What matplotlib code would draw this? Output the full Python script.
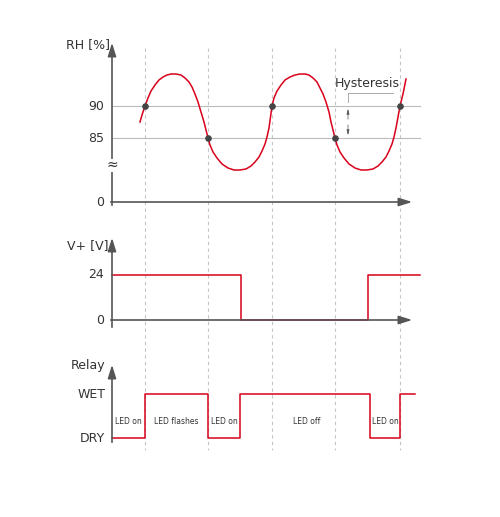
import matplotlib.pyplot as plt

# drawing units are pixel-like positions of the schematic
switch_x = [145, 208, 272, 335, 400]

rh_x = [140, 142, 145, 148, 151, 155, 159, 163, 167, 171, 176, 181, 185, 189, 192, 195, 198, 201, 204, 206, 208,
        210, 213, 217, 222, 228, 234, 240, 246, 251, 255, 259, 262, 265, 267, 269, 270.5, 272,
        274, 277, 281, 285, 290, 295, 300, 305, 309, 313, 317, 320, 323, 326, 329, 331, 333, 335,
        337, 340, 344, 349, 355, 361, 367, 373, 378, 382, 386, 389, 392, 394, 396, 398, 400, 403, 406]
rh_y = [122, 115, 106, 98, 91, 85, 80, 77, 75, 74, 74, 75, 78, 82, 87, 94, 102, 112, 122, 130, 138,
        145, 152, 158, 164, 168, 170, 170, 169, 166, 162, 157, 151, 144, 137, 128, 117, 106,
        98, 91, 85, 80, 77, 75, 74, 74, 75, 78, 82, 88, 94, 102, 112, 122, 130, 138,
        145, 152, 158, 164, 168, 170, 170, 169, 166, 162, 157, 151, 144, 137, 128, 117, 106, 94, 79]
dot_x = [145, 208, 272, 335, 400]
dot_y = [106, 138, 106, 138, 106]

v_x = [112, 241, 241, 368, 368, 420]
v_y = [275, 275, 320, 320, 275, 275]

relay_x = [112, 145, 145, 208, 208, 240, 240, 370, 370, 400, 400, 415]
relay_y = [438, 438, 394, 394, 438, 438, 394, 394, 438, 438, 394, 394]
led_labels = ["LED on", "LED flashes", "LED on", "LED off", "LED on"]
led_x = [128, 176, 224, 307, 385]

red = "#d9001b"
grey = "#555555"
txt = "#333333"

fig = plt.figure(figsize=(5, 5.17), dpi=100)
ax = fig.add_axes([0, 0, 1, 1])
ax.set_xlim(0, 500)
ax.set_ylim(517, 0)
ax.axis("off")

for x in switch_x:
    ax.plot([x, x], [48, 450], color="#c4c4c4", lw=0.8, ls=(0, (3, 3)))

def arrow(x0, y0, x1, y1):
    ax.annotate("", xy=(x1, y1), xytext=(x0, y0),
                arrowprops=dict(arrowstyle="-|>,head_width=0.25,head_length=0.8", color=grey, lw=1.2))

# RH panel
for y in [106, 138]:
    ax.plot([112, 420], [y, y], color="#bbbbbb", lw=0.8)
arrow(112, 208, 112, 40)
arrow(108, 202, 415, 202)
ax.text(88, 45, "RH [%]", fontsize=9, color=txt, ha="center", va="center")
ax.text(96, 106, "90", fontsize=9, color=txt, ha="center", va="center")
ax.text(96, 138, "85", fontsize=9, color=txt, ha="center", va="center")
ax.text(100, 202, "0", fontsize=9, color=txt, ha="center", va="center")
ax.plot([112, 112], [161, 170], color="white", lw=3, zorder=4)
ax.text(112, 165, "≈", fontsize=10, color=txt, ha="center", va="center", zorder=5)
ax.plot(rh_x, rh_y, color=red, lw=1.1)
ax.scatter(dot_x, dot_y, s=14, color="#444444", zorder=3)
ax.text(367, 84, "Hysteresis", fontsize=9, color=txt, ha="center", va="center")
ax.plot([393, 348, 348], [93, 93, 102], color="#aaaaaa", lw=0.7)
ax.annotate("", xy=(348, 106), xytext=(348, 122), arrowprops=dict(arrowstyle="-|>,head_width=0.08,head_length=0.3", color=grey, lw=0.5))
ax.annotate("", xy=(348, 138), xytext=(348, 122), arrowprops=dict(arrowstyle="-|>,head_width=0.08,head_length=0.3", color=grey, lw=0.5))

# V+ panel
arrow(112, 330, 112, 235)
arrow(108, 320, 415, 320)
ax.text(88, 246, "V+ [V]", fontsize=9, color=txt, ha="center", va="center")
ax.text(96, 275, "24", fontsize=9, color=txt, ha="center", va="center")
ax.text(100, 320, "0", fontsize=9, color=txt, ha="center", va="center")
ax.plot(v_x, v_y, color=red, lw=1.1)

# relay panel
arrow(112, 445, 112, 362)
ax.text(88, 365, "Relay", fontsize=9, color=txt, ha="center", va="center")
ax.text(92, 394, "WET", fontsize=9, color=txt, ha="center", va="center")
ax.text(92, 438, "DRY", fontsize=9, color=txt, ha="center", va="center")
ax.plot(relay_x, relay_y, color=red, lw=1.1)
for lab, x in zip(led_labels, led_x):
    ax.text(x, 421, lab, fontsize=5.5, color=txt, ha="center", va="center")

fig.savefig("out.png", dpi=100)
